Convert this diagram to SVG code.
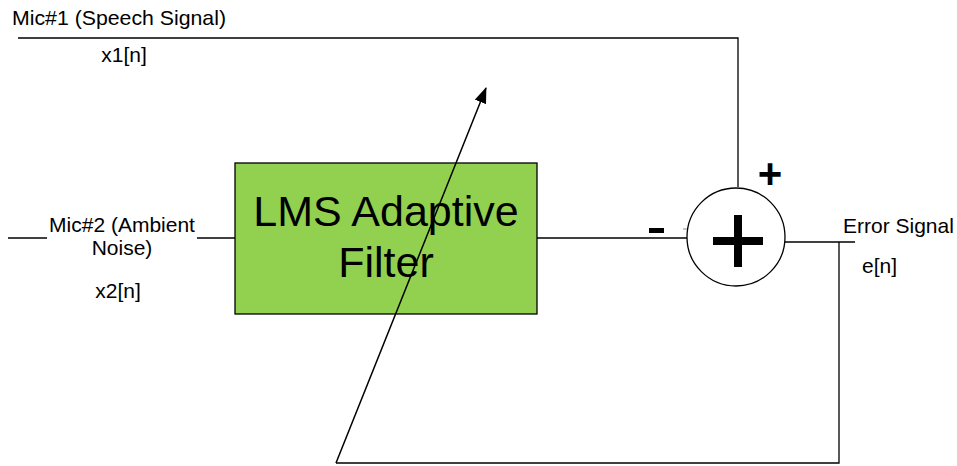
<svg xmlns="http://www.w3.org/2000/svg" width="957" height="466" viewBox="0 0 957 466">
<defs>
<marker id="arr" viewBox="0 0 16 12" refX="15" refY="6" markerWidth="16" markerHeight="12" markerUnits="userSpaceOnUse" orient="auto"><path d="M0,0 L16,6 L0,12 Z" fill="#000"/></marker>
<style>
.t{font-family:"Liberation Sans",Arial,sans-serif;fill:#000}
.w{stroke:#000;stroke-width:1.3;fill:none}
</style>
</defs>
<rect width="957" height="466" fill="#fff"/>
<g id="connectors">
<polyline class="w" points="18,38 738,38 738,187"/>
<line class="w" x1="8" y1="238" x2="47" y2="238"/>
<line class="w" x1="197" y1="238" x2="235" y2="238"/>
<line class="w" x1="537" y1="238" x2="687" y2="238"/>
<line x1="683" y1="229" x2="687" y2="229" stroke="#888" stroke-width="1"/>
<line class="w" x1="784" y1="242" x2="855" y2="242"/>
<polyline class="w" points="839,242 839,463 336,463"/>
</g>
<g id="filter">
<rect x="235" y="163" width="302" height="151" fill="#92D050" stroke="#000" stroke-width="1.3"/>
<text class="t" x="386" y="226" font-size="43" text-anchor="middle">LMS Adaptive</text>
<text class="t" x="386" y="277" font-size="43" text-anchor="middle">Filter</text>
</g>
<g id="adapt-arrow">
<line x1="336" y1="463" x2="486" y2="88" stroke="#000" stroke-width="1.5" marker-end="url(#arr)"/>
</g>
<g id="summer">
<circle cx="736" cy="237" r="49" fill="#fff" stroke="#000" stroke-width="1.3"/>
<path d="M738,215 V267 M713,241 H763" stroke="#000" stroke-width="8"/>
<text class="t" x="770" y="188" font-size="42" font-weight="bold" text-anchor="middle">+</text>
<rect x="649" y="228" width="15" height="5" fill="#000"/>
</g>
<g id="labels">
<text class="t" x="12" y="25" font-size="21" textLength="214" lengthAdjust="spacingAndGlyphs">Mic#1 (Speech Signal)</text>
<text class="t" x="124" y="62" font-size="21" text-anchor="middle">x1[n]</text>
<text class="t" x="122" y="232" font-size="21" text-anchor="middle">Mic#2 (Ambient</text>
<text class="t" x="122" y="255" font-size="21" text-anchor="middle">Noise)</text>
<text class="t" x="118" y="298" font-size="21" text-anchor="middle">x2[n]</text>
<text class="t" x="843" y="233" font-size="21">Error Signal</text>
<text class="t" x="862" y="273" font-size="21">e[n]</text>
</g>
</svg>
